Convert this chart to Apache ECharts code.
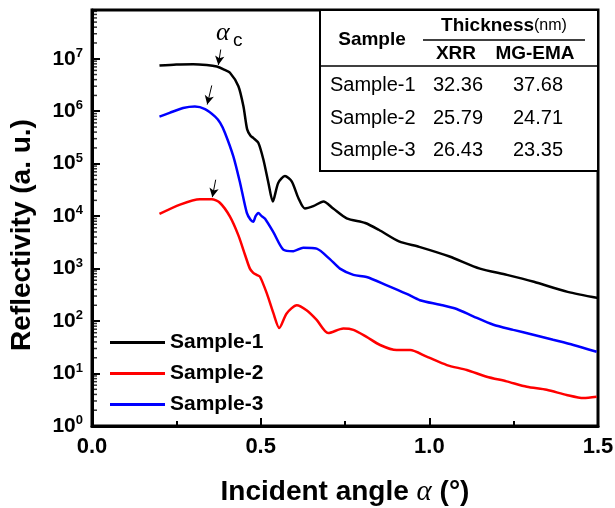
<!DOCTYPE html>
<html>
<head>
<meta charset="utf-8">
<script src="https://cdn.jsdelivr.net/npm/echarts@6/dist/echarts.min.js"></script>
<style>
html,body{margin:0;padding:0;background:#fff;}
#main{width:615px;height:508px;}
</style>
</head>
<body>
<div id="main"></div>
<script>
// ---- data ----
const sample1X = [0.20,0.25,0.30,0.34,0.37,0.39,0.409,0.434,0.449,0.460,0.470,0.478,0.493,0.508,0.523,0.536,0.552,0.572,0.592,0.612,0.631,0.656,0.686,0.715,0.755,0.81,0.85,0.91,0.97,1.06,1.15,1.23,1.31,1.41,1.50];
const sample1Y = [7.4e6,7.8e6,7.9e6,7.6e6,7.1e6,6.3e6,5.4e6,3.0e6,1.23e6,4.5e5,3.4e5,3.1e5,2.5e5,1.2e5,4.3e4,1.9e4,4.3e4,5.8e4,4.6e4,2.2e4,1.4e4,1.55e4,1.9e4,1.4e4,9.1e3,7.4e3,5.5e3,3.3e3,2.6e3,1.7e3,1.0e3,760,560,360,275];

const sample2X = [0.20,0.261,0.32,0.355,0.379,0.409,0.434,0.454,0.468,0.478,0.488,0.498,0.518,0.538,0.555,0.577,0.607,0.636,0.666,0.70,0.745,0.775,0.814,0.854,0.903,0.943,0.992,1.052,1.111,1.17,1.229,1.289,1.348,1.407,1.457,1.496];
const sample2Y = [1.1e4,1.66e4,2.1e4,2.1e4,1.8e4,9.8e3,4.3e3,1.8e3,1.0e3,830,760,700,340,140,74,140,200,160,105,59,72,68,50,35,28,28,21,14.5,11.7,8.7,7.1,5.6,4.9,3.9,3.4,3.6];

const sample3X = [0.20,0.23,0.27,0.305,0.335,0.365,0.38,0.394,0.419,0.439,0.459,0.470,0.478,0.485,0.493,0.503,0.513,0.538,0.567,0.597,0.626,0.666,0.706,0.735,0.775,0.814,0.874,0.933,0.972,1.032,1.081,1.13,1.19,1.249,1.308,1.367,1.427,1.496];
const sample3Y = [7.9e5,9.3e5,1.15e6,1.23e6,1.1e6,7.9e5,6.0e5,3.9e5,1.38e5,4.3e4,1.15e4,8.5e3,7.8e3,1.0e4,1.15e4,1.0e4,8.9e3,4.9e3,2.3e3,2.15e3,2.5e3,2.4e3,1.5e3,1.0e3,760,690,480,330,250,205,170,123,85,68,55,44,35,26];

const seriesNames = ['Sample-1','Sample-2','Sample-3'];
const seriesColors = ['#000000','#ff0000','#0000ff'];

// arrows marking the critical angle (data coords: start, end)
const arrow1 = [[0.3816,1.5e7],[0.3745,7.6e6]];
const arrow2 = [[0.3667,4.95e4],[0.3567,2.3e4]];
const arrow3 = [[0.355,3.1e6],[0.3416,1.34e6]];

// inset table
const tableSamples = ['Sample-1','Sample-2','Sample-3'];
const tableXRR = ['32.36','25.79','26.43'];
const tableEMA = ['37.68','24.71','23.35'];

const xTicks = [0, 0.5, 1.0, 1.5];
// log minor tick positions: multipliers within each decade
const minorMultipliers = [2,3,4,5,6,7,8,9];
const decades = [1,10,100,1e3,1e4,1e5,1e6,1e7];
const Y_MAX = 8.5e7;

const FONT = '"Liberation Sans", Arial, Helvetica, sans-serif';

function pairs(xs, ys){ return xs.map((x,i)=>[x, ys[i]]); }
function arrowML(a){
  return {
    silent: true, symbol: ['none','arrow'], symbolSize: [7,9],
    label: {show:false},
    lineStyle: {color:'#000', width:1, type:'solid'},
    emphasis: {disabled:true},
    data: [[{coord:a[0]},{coord:a[1]}]]
  };
}

const minorTickData = [];
decades.forEach(d=>minorMultipliers.forEach(m=>{ if (m*d < Y_MAX) minorTickData.push([0, m*d]); }));

const chart = echarts.init(document.getElementById('main'), null, {renderer:'canvas'});

const dataSets = [pairs(sample1X,sample1Y), pairs(sample2X,sample2Y), pairs(sample3X,sample3Y)];
const arrows = [arrow1, arrow2, arrow3];

const series = seriesNames.map((n,i)=>({
  name: n, type: 'line', data: dataSets[i], symbol: 'none', smooth: 0.25,
  lineStyle: {color: seriesColors[i], width: 2.5},
  itemStyle: {color: seriesColors[i]},
  z: 3 - i,
  markLine: arrowML(arrows[i])
}));
series.push({
  name: 'yMinorTicks', type: 'scatter', data: minorTickData, silent: true, clip: false,
  symbol: 'rect', symbolSize: [5, 1.5], symbolOffset: [2.5, 0],
  itemStyle: {color:'#000'}, z: 5, tooltip:{show:false}
});

const rowY = [85, 118, 150];
const tableGraphics = [
  {type:'rect', shape:{x:320,y:10,width:278,height:161}, style:{fill:'#fff', stroke:'#000', lineWidth:2}},
  {type:'line', shape:{x1:320,y1:66,x2:598,y2:66}, style:{stroke:'#000', lineWidth:1.5}},
  {type:'line', shape:{x1:423,y1:40,x2:585,y2:40}, style:{stroke:'#000', lineWidth:1.5}},
  {type:'text', x:372, y:40, style:{text:'Sample', font:'bold 19px '+FONT, fill:'#000', align:'center', verticalAlign:'middle'}},
  {type:'text', x:504, y:26, style:{text:'{t|Thickness}{u|(nm)}', fill:'#000', align:'center', verticalAlign:'middle',
     rich:{t:{fontWeight:'bold', fontSize:19, fontFamily:FONT}, u:{fontSize:16, fontFamily:FONT}}}},
  {type:'text', x:456, y:54, style:{text:'XRR', font:'bold 19px '+FONT, fill:'#000', align:'center', verticalAlign:'middle'}},
  {type:'text', x:535, y:54, style:{text:'MG-EMA', font:'bold 19px '+FONT, fill:'#000', align:'center', verticalAlign:'middle'}}
];
tableSamples.forEach((s,i)=>{
  tableGraphics.push({type:'text', x:330, y:rowY[i], style:{text:s, font:'20px '+FONT, fill:'#000', align:'left', verticalAlign:'middle'}});
  tableGraphics.push({type:'text', x:458, y:rowY[i], style:{text:tableXRR[i], font:'20px '+FONT, fill:'#000', align:'center', verticalAlign:'middle'}});
  tableGraphics.push({type:'text', x:538, y:rowY[i], style:{text:tableEMA[i], font:'20px '+FONT, fill:'#000', align:'center', verticalAlign:'middle'}});
});

const option = {
  backgroundColor: '#fff',
  animation: false,
  grid: {left:92, right:17, top:10, bottom:82, outerBoundsMode:'none', containLabel:false,
         show:true, borderColor:'#000', borderWidth:3, backgroundColor:'transparent'},
  legend: {
    orient:'vertical', left:105, top:327, itemWidth:55, itemHeight:3, itemGap:10,
    icon:'rect',
    data: seriesNames,
    textStyle:{fontSize:21, fontWeight:'bold', fontFamily:FONT, color:'#000'},
    selectedMode:false
  },
  xAxis: {
    type:'value', min:0, max:1.5, interval:0.5,
    name:'{n|Incident angle }{a|α}{n| (°)}', nameLocation:'middle', nameGap:52,
    nameTextStyle:{rich:{
      n:{fontSize:28, fontWeight:'bold', fontFamily:FONT, color:'#000'},
      a:{fontSize:29, fontStyle:'italic', fontFamily:'"Liberation Serif", "DejaVu Serif", serif', color:'#000'}
    }},
    axisLine:{show:true, onZero:false, lineStyle:{color:'#000', width:3}},
    axisTick:{show:true, inside:true, length:8, lineStyle:{color:'#000', width:2}},
    minorTick:{show:true, splitNumber:2, length:5, lineStyle:{color:'#000', width:2}},
    splitLine:{show:false},
    axisLabel:{margin:10, fontSize:22, fontWeight:'bold', fontFamily:FONT, color:'#000',
      formatter:(v)=> (xTicks.some(t=>Math.abs(t-v)<1e-9) ? v.toFixed(1) : '')}
  },
  yAxis: {
    type:'log', logBase:10, min:1, max:Y_MAX,
    name:'Reflectivity (a. u.)', nameLocation:'middle', nameGap:56, nameRotate:90,
    nameTextStyle:{fontSize:28, fontWeight:'bold', fontFamily:FONT, color:'#000', padding:[0,34,0,0]},
    axisLine:{show:true, onZero:false, lineStyle:{color:'#000', width:3}},
    axisTick:{show:true, inside:true, length:8, lineStyle:{color:'#000', width:2}},
    minorTick:{show:false},
    splitLine:{show:false},
    axisLabel:{margin:9, color:'#000',
      formatter:(v)=>{
        const e = Math.log10(v);
        const r = Math.round(e);
        if (Math.abs(e-r) > 1e-6) return '';
        return '{b|10}{s|' + r + '}';
      },
      rich:{
        b:{fontSize:21, fontWeight:'bold', fontFamily:FONT, color:'#000', lineHeight:24},
        s:{fontSize:13, fontWeight:'bold', fontFamily:FONT, color:'#000', lineHeight:13, verticalAlign:'top'}
      }
    }
  },
  series: series,
  graphic: [
    {type:'group', z:100, children: tableGraphics},
    {type:'text', z:100, x:216, y:33, style:{text:'α', font:'italic 26px "Liberation Serif", "DejaVu Serif", serif', fill:'#000', align:'left', verticalAlign:'middle'}},
    {type:'text', z:100, x:233, y:41, style:{text:'c', font:'19px '+FONT, fill:'#000', align:'left', verticalAlign:'middle'}}
  ]
};
chart.setOption(option);
</script>
</body>
</html>
